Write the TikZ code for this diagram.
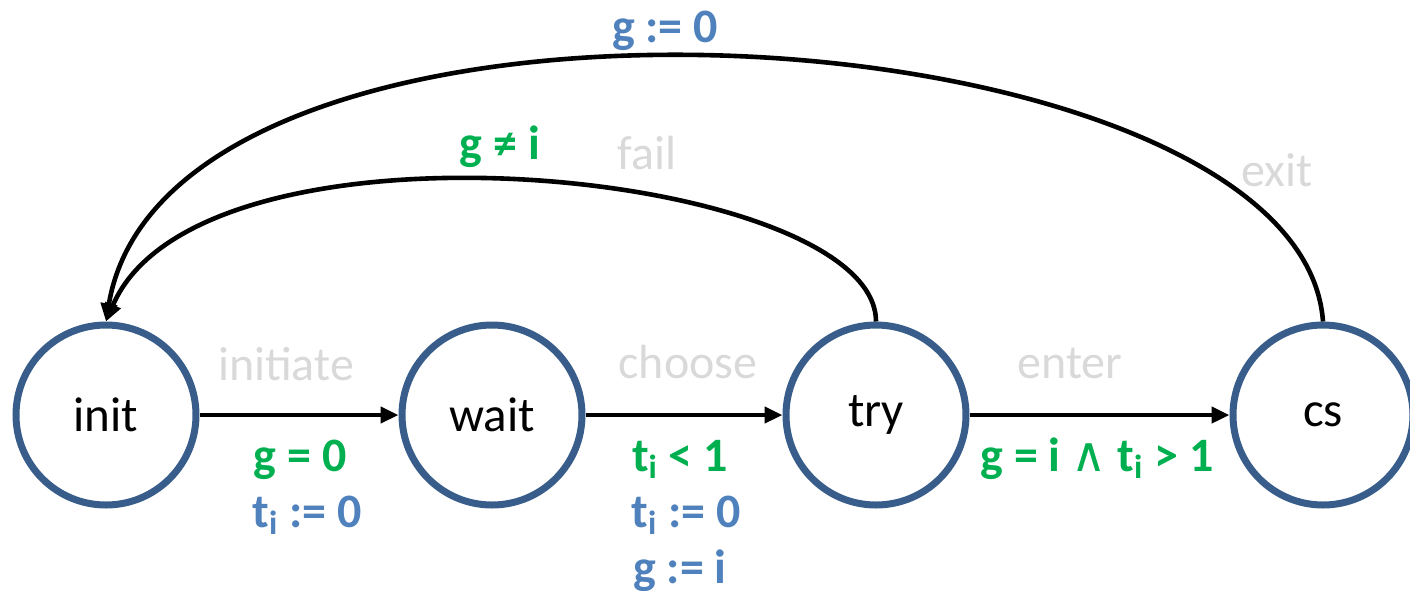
\documentclass[tikz,border=0pt]{standalone}
\usepackage{fontspec}
\setmainfont{Carlito}
\newfontfamily\wedgefont{DejaVu Sans}
\usepackage{tikz}
\usetikzlibrary{arrows.meta,positioning}
\definecolor{StateBlue}{RGB}{56,93,138}
\definecolor{GuardGreen}{RGB}{0,176,80}
\definecolor{ActBlue}{RGB}{79,129,189}
\definecolor{LightGray}{RGB}{217,217,217}
\newcommand{\ti}{t\textsubscript{i}}

\begin{document}
\begin{tikzpicture}[x=0.5pt,y=-0.5pt,
    state/.style={circle, draw=StateBlue, line width=3.5pt, minimum size=90pt, inner sep=0pt, font=\fontsize{24.5}{28}\selectfont},
    trans/.style={-{Triangle[length=9pt,width=8pt]}, line width=2.3pt},
    evname/.style={text=LightGray, anchor=base, font=\fontsize{24}{28}\selectfont},
    guard/.style={text=GuardGreen, anchor=base, font=\fontsize{24}{28}\selectfont\bfseries},
    act/.style={text=ActBlue, anchor=base, font=\fontsize{24}{28}\selectfont\bfseries}]
      \useasboundingbox (0,0) rectangle (1410,590);
      \node[state] (init) at (106,415) {init};
      \node[state] (wait) at (492,415) {wait};
      \node[state] (try) at (876,415) {try};
      \node[state] (cs) at (1323,415) {cs};
      \draw[trans] (init) -- (wait);
      \draw[trans] (wait) -- (try);
      \draw[trans] (try) -- (cs);
      \draw[trans] (try.north) .. controls (876,170) and (200,100) .. (init.north);
      \draw[trans] (cs.north) .. controls (1300,5) and (170,-65) .. (init.north);
      % event names
      \node[evname] (lInit) at (286,380) {initiate};
      \node[evname] (lChoose) at (688,378) {choose};
      \node[evname] (lEnter) at (1070,378) {enter};
      \node[evname] (lFail) at (647,169) {fail};
      \node[evname] (lExit) at (1277,186) {exit};
      % guards and updates
      \node[guard] (g1) at (300,471) {g = 0};
      \node[act] (a1) at (307,527) {\ti{} := 0};
      \node[guard] (g2) at (680,471) {\ti{} < 1};
      \node[act] (a2) at (686,527) {\ti{} := 0};
      \node[act] (a3) at (680,583) {g := i};
      \node[guard] (g3) at (1097,471) {g = i {\wedgefont\mdseries\fontsize{24}{28}\selectfont ∧} \ti{} > 1};
      \node[guard] (g4) at (500,159) {g ≠ i};
      \node[act] (a4) at (665,42) {g := 0};
    \end{tikzpicture}
\end{document}
